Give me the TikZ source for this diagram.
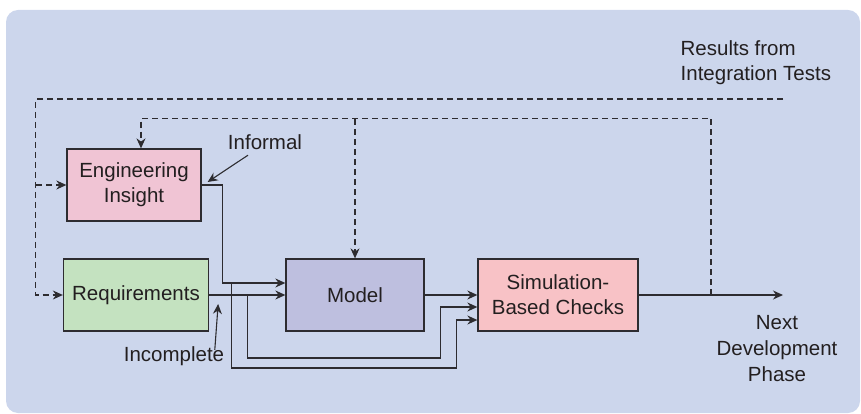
\documentclass[tikz,border=0pt]{standalone}
\usepackage{fontspec}
\setmainfont{Liberation Sans}
\usepackage{tikz}
\usetikzlibrary{arrows.meta, positioning, calc}
\definecolor{panelblue}{RGB}{204,214,236}
\definecolor{linegray}{RGB}{45,44,48}
\definecolor{textgray}{RGB}{35,31,32}
\definecolor{insightpink}{RGB}{240,196,212}
\definecolor{reqgreen}{RGB}{196,226,192}
\definecolor{modelblue}{RGB}{190,191,223}
\definecolor{checkpink}{RGB}{248,194,198}
\tikzset{
    flowdiagram/.style={x=1pt, y=-1pt, color=linegray, line width=1.3pt,
        >={Stealth[length=10pt, width=9pt]}, font=\fontsize{20.5}{25}\selectfont},
    block/.style={draw, minimum height=72pt, align=center, text=textgray},
    feedback/.style={dash pattern=on 6pt off 4pt, line width=1.1pt},
    note/.style={align=center, inner sep=2pt, text=textgray},
    % thin arrows that point at a line from a text
    pointer/.style={->, line width=1.1pt},
}

\begin{document}
\begin{tikzpicture}[flowdiagram]
    \useasboundingbox (0,0) rectangle (861,414);
    \fill[panelblue, rounded corners=12pt] (6,10) rectangle (860,413);

    \node[block, fill=insightpink, minimum width=134pt] (insight) at (134,185) {Engineering\\Insight};
    \node[block, fill=reqgreen, minimum width=145pt]    (req)     at (136,295) {Requirements};
    \node[block, fill=modelblue, minimum width=138pt]   (model)   at (355,295) {Model};
    \node[block, fill=checkpink, minimum width=160pt]   (checks)  at (558,295) {Simulation-\\Based Checks};

    \node[note, align=left, anchor=west] (results) at (678,63) {Results from\\Integration Tests};
    \node[note, font=\fontsize{20.5}{26}\selectfont] (next) at (777,349) {Next\\Development\\Phase};
    \node[note] (informal)   at (265,142) {Informal};
    \node[note] (incomplete) at (174,356) {Incomplete};

    \coordinate (out)  at (783,295);
    \coordinate (fromtests) at (783,99);
    \coordinate (tap)  at (711,295);
    \coordinate (b1) at ($(model.west)+(-54,-12)$);
    \coordinate (b2) at ($(req.east)+(38.5,0)$);

    % forward path
    \draw[->] (insight.east) -- ++(21,0) |- ($(model.west)+(0,-12)$);
    \draw[->] (req.east) -- (model.west);
    \draw[->] (model.east) -- (checks.west);
    \draw[->] (checks.east) -- (out);
    \draw[->] (b1) -- ++(0,85) -| ++(225,-48) -- ($(checks.west)+(0,25)$);
    \draw[->] (b2) -- ++(0,63) -| ++(193,-51) -- ($(checks.west)+(0,12)$);

    % feedback loops
    \draw[feedback, ->] (tap) |- ($(insight.north)+(7,-30)$) -- ($(insight.north)+(7,0)$);
    \draw[feedback, ->] (model.north |- 0,119) -- (model.north);
    \draw[feedback, ->] (fromtests) -| ($(req.west)+(-27,0)$) -- (req.west);
    \draw[feedback, ->] ($(insight.west)+(-30,0)$) -- (insight.west);

    \draw[pointer] ($(informal.south)+(-17,3)$) -- ($(insight.east)+(6,-3)$);
    \draw[pointer] ($(incomplete.north east)+(-12,6)$) -- ($(req.east)+(9,9)$);
\end{tikzpicture}
\end{document}
